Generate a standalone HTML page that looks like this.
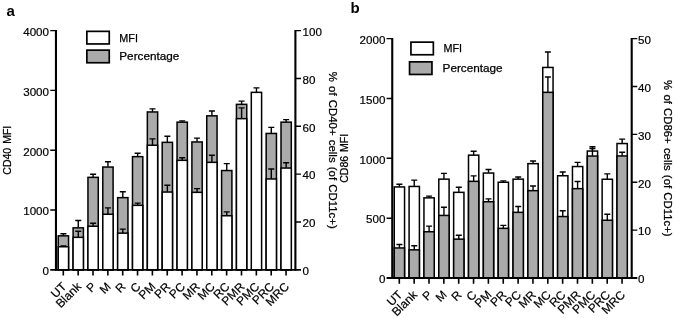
<!DOCTYPE html>
<html><head><meta charset="utf-8"><title>Figure</title>
<style>
html,body{margin:0;padding:0;background:#fff}
svg{display:block;will-change:transform}
.t{font-family:"Liberation Sans",Arial,sans-serif;font-size:11.6px;fill:#000;stroke:#000;stroke-width:.2px}
.x{font-family:"Liberation Sans",Arial,sans-serif;font-size:12px;fill:#000;stroke:#000;stroke-width:.2px}
.a{font-family:"Liberation Sans",Arial,sans-serif;font-size:11.5px;fill:#000;stroke:#000;stroke-width:.25px;word-spacing:1.1px}
.l{font-family:"Liberation Sans",Arial,sans-serif;font-size:11px;fill:#000;stroke:#000;stroke-width:.25px}
.p{font-family:"Liberation Sans",Arial,sans-serif;font-size:15px;font-weight:bold;fill:#000}
</style></head><body>
<svg width="675" height="318" viewBox="0 0 675 318">
<rect width="675" height="318" fill="#fff"/>
<rect x="58.25" y="235.85" width="10.3" height="34" fill="#aaaaaa" stroke="#000" stroke-width="1.5"/>
<path d="M60.4 233.8H66.4M63.4 233.8V235.6" stroke="#000" stroke-width="1.4" fill="none"/>
<rect x="58.25" y="246.75" width="10.3" height="23.1" fill="#fff" stroke="#000" stroke-width="1.5"/>
<path d="M60.4 245.9H66.4M63.4 245.9V246.5" stroke="#000" stroke-width="1.4" fill="none"/>
<rect x="73.1" y="227.85" width="10.3" height="42" fill="#aaaaaa" stroke="#000" stroke-width="1.5"/>
<path d="M75.25 220.5H81.25M78.25 220.5V227.6" stroke="#000" stroke-width="1.4" fill="none"/>
<rect x="73.1" y="237.35" width="10.3" height="32.5" fill="#fff" stroke="#000" stroke-width="1.5"/>
<path d="M75.25 231.2H81.25M78.25 231.2V237.1" stroke="#000" stroke-width="1.4" fill="none"/>
<rect x="87.95" y="177.35" width="10.3" height="92.5" fill="#aaaaaa" stroke="#000" stroke-width="1.5"/>
<path d="M90.1 174.2H96.1M93.1 174.2V177.1" stroke="#000" stroke-width="1.4" fill="none"/>
<rect x="87.95" y="226.25" width="10.3" height="43.6" fill="#fff" stroke="#000" stroke-width="1.5"/>
<path d="M90.1 223.3H96.1M93.1 223.3V226" stroke="#000" stroke-width="1.4" fill="none"/>
<rect x="102.8" y="167.05" width="10.3" height="102.8" fill="#aaaaaa" stroke="#000" stroke-width="1.5"/>
<path d="M104.95 161.8H110.95M107.95 161.8V166.8" stroke="#000" stroke-width="1.4" fill="none"/>
<rect x="102.8" y="214.25" width="10.3" height="55.6" fill="#fff" stroke="#000" stroke-width="1.5"/>
<path d="M104.95 207.9H110.95M107.95 207.9V214" stroke="#000" stroke-width="1.4" fill="none"/>
<rect x="117.65" y="197.65" width="10.3" height="72.2" fill="#aaaaaa" stroke="#000" stroke-width="1.5"/>
<path d="M119.8 191.8H125.8M122.8 191.8V197.4" stroke="#000" stroke-width="1.4" fill="none"/>
<rect x="117.65" y="233.15" width="10.3" height="36.7" fill="#fff" stroke="#000" stroke-width="1.5"/>
<path d="M119.8 229.1H125.8M122.8 229.1V232.9" stroke="#000" stroke-width="1.4" fill="none"/>
<rect x="132.5" y="156.65" width="10.3" height="113.2" fill="#aaaaaa" stroke="#000" stroke-width="1.5"/>
<path d="M134.65 153.3H140.65M137.65 153.3V156.4" stroke="#000" stroke-width="1.4" fill="none"/>
<rect x="132.5" y="205.35" width="10.3" height="64.5" fill="#fff" stroke="#000" stroke-width="1.5"/>
<path d="M134.65 203.1H140.65M137.65 203.1V205.1" stroke="#000" stroke-width="1.4" fill="none"/>
<rect x="147.35" y="111.95" width="10.3" height="157.9" fill="#aaaaaa" stroke="#000" stroke-width="1.5"/>
<path d="M149.5 108.9H155.5M152.5 108.9V111.7" stroke="#000" stroke-width="1.4" fill="none"/>
<rect x="147.35" y="145.25" width="10.3" height="124.6" fill="#fff" stroke="#000" stroke-width="1.5"/>
<path d="M149.5 138.9H155.5M152.5 138.9V145" stroke="#000" stroke-width="1.4" fill="none"/>
<rect x="162.2" y="142.35" width="10.3" height="127.5" fill="#aaaaaa" stroke="#000" stroke-width="1.5"/>
<path d="M164.35 136.3H170.35M167.35 136.3V142.1" stroke="#000" stroke-width="1.4" fill="none"/>
<rect x="162.2" y="192.05" width="10.3" height="77.8" fill="#fff" stroke="#000" stroke-width="1.5"/>
<path d="M164.35 185.2H170.35M167.35 185.2V191.8" stroke="#000" stroke-width="1.4" fill="none"/>
<rect x="177.05" y="122.15" width="10.3" height="147.7" fill="#aaaaaa" stroke="#000" stroke-width="1.5"/>
<path d="M179.2 120.9H185.2M182.2 120.9V121.9" stroke="#000" stroke-width="1.4" fill="none"/>
<rect x="177.05" y="160.35" width="10.3" height="109.5" fill="#fff" stroke="#000" stroke-width="1.5"/>
<path d="M179.2 157.8H185.2M182.2 157.8V160.1" stroke="#000" stroke-width="1.4" fill="none"/>
<rect x="191.9" y="141.95" width="10.3" height="127.9" fill="#aaaaaa" stroke="#000" stroke-width="1.5"/>
<path d="M194.05 138.1H200.05M197.05 138.1V141.7" stroke="#000" stroke-width="1.4" fill="none"/>
<rect x="191.9" y="192.35" width="10.3" height="77.5" fill="#fff" stroke="#000" stroke-width="1.5"/>
<path d="M194.05 188.6H200.05M197.05 188.6V192.1" stroke="#000" stroke-width="1.4" fill="none"/>
<rect x="206.75" y="115.85" width="10.3" height="154" fill="#aaaaaa" stroke="#000" stroke-width="1.5"/>
<path d="M208.9 111H214.9M211.9 111V115.6" stroke="#000" stroke-width="1.4" fill="none"/>
<rect x="206.75" y="162.35" width="10.3" height="107.5" fill="#fff" stroke="#000" stroke-width="1.5"/>
<path d="M208.9 155.3H214.9M211.9 155.3V162.1" stroke="#000" stroke-width="1.4" fill="none"/>
<rect x="221.6" y="170.55" width="10.3" height="99.3" fill="#aaaaaa" stroke="#000" stroke-width="1.5"/>
<path d="M223.75 163.6H229.75M226.75 163.6V170.3" stroke="#000" stroke-width="1.4" fill="none"/>
<rect x="221.6" y="215.75" width="10.3" height="54.1" fill="#fff" stroke="#000" stroke-width="1.5"/>
<path d="M223.75 211.9H229.75M226.75 211.9V215.5" stroke="#000" stroke-width="1.4" fill="none"/>
<rect x="236.45" y="104.35" width="10.3" height="165.5" fill="#aaaaaa" stroke="#000" stroke-width="1.5"/>
<path d="M238.6 101.1H244.6M241.6 101.1V104.1" stroke="#000" stroke-width="1.4" fill="none"/>
<rect x="236.45" y="118.65" width="10.3" height="151.2" fill="#fff" stroke="#000" stroke-width="1.5"/>
<path d="M238.6 107.9H244.6M241.6 107.9V118.4" stroke="#000" stroke-width="1.4" fill="none"/>
<rect x="251.3" y="92.35" width="10.3" height="177.5" fill="#fff" stroke="#000" stroke-width="1.5"/>
<path d="M253.45 87.9H259.45M256.45 87.9V92.1" stroke="#000" stroke-width="1.4" fill="none"/>
<rect x="266.15" y="133.45" width="10.3" height="136.4" fill="#aaaaaa" stroke="#000" stroke-width="1.5"/>
<path d="M268.3 127.4H274.3M271.3 127.4V133.2" stroke="#000" stroke-width="1.4" fill="none"/>
<rect x="266.15" y="178.95" width="10.3" height="90.9" fill="#fff" stroke="#000" stroke-width="1.5"/>
<path d="M268.3 169H274.3M271.3 169V178.7" stroke="#000" stroke-width="1.4" fill="none"/>
<rect x="281" y="122.15" width="10.3" height="147.7" fill="#aaaaaa" stroke="#000" stroke-width="1.5"/>
<path d="M283.15 119.6H289.15M286.15 119.6V121.9" stroke="#000" stroke-width="1.4" fill="none"/>
<rect x="281" y="168.05" width="10.3" height="101.8" fill="#fff" stroke="#000" stroke-width="1.5"/>
<path d="M283.15 162.7H289.15M286.15 162.7V167.8" stroke="#000" stroke-width="1.4" fill="none"/>
<path d="M55.95 29.95V270.8M295.4 29.95V270.8" stroke="#000" stroke-width="2.1" fill="none"/>
<path d="M50.25 269.85H301" stroke="#000" stroke-width="1.9" fill="none"/>
<path d="M63.3 269.85V275.45M78.15 269.85V275.45M93 269.85V275.45M107.85 269.85V275.45M122.7 269.85V275.45M137.55 269.85V275.45M152.4 269.85V275.45M167.25 269.85V275.45M182.1 269.85V275.45M196.95 269.85V275.45M211.8 269.85V275.45M226.65 269.85V275.45M241.5 269.85V275.45M256.35 269.85V275.45M271.2 269.85V275.45M286.05 269.85V275.45" stroke="#000" stroke-width="1.6" fill="none"/>
<text x="49" y="275.15" text-anchor="end" class="t">0</text>
<text x="49" y="215.34" text-anchor="end" class="t">1000</text>
<text x="49" y="155.53" text-anchor="end" class="t">2000</text>
<text x="49" y="95.71" text-anchor="end" class="t">3000</text>
<text x="49" y="35.9" text-anchor="end" class="t">4000</text>
<text x="302.5" y="275.15" class="t">0</text>
<text x="302.5" y="227.3" class="t">20</text>
<text x="302.5" y="179.45" class="t">40</text>
<text x="302.5" y="131.6" class="t">60</text>
<text x="302.5" y="83.75" class="t">80</text>
<text x="302.5" y="35.9" class="t">100</text>
<path d="M50.25 210.04H55.95M50.25 150.23H55.95M50.25 90.41H55.95M50.25 30.6H55.95M295.4 222H301M295.4 174.15H301M295.4 126.3H301M295.4 78.45H301M295.4 30.6H301" stroke="#000" stroke-width="1.4" fill="none"/>
<text transform="translate(67.1 287.35) rotate(-45)" text-anchor="end" class="x">UT</text>
<text transform="translate(81.95 287.35) rotate(-45)" text-anchor="end" class="x">Blank</text>
<text transform="translate(96.8 287.35) rotate(-45)" text-anchor="end" class="x">P</text>
<text transform="translate(111.65 287.35) rotate(-45)" text-anchor="end" class="x">M</text>
<text transform="translate(126.5 287.35) rotate(-45)" text-anchor="end" class="x">R</text>
<text transform="translate(141.35 287.35) rotate(-45)" text-anchor="end" class="x">C</text>
<text transform="translate(156.2 287.35) rotate(-45)" text-anchor="end" class="x">PM</text>
<text transform="translate(171.05 287.35) rotate(-45)" text-anchor="end" class="x">PR</text>
<text transform="translate(185.9 287.35) rotate(-45)" text-anchor="end" class="x">PC</text>
<text transform="translate(200.75 287.35) rotate(-45)" text-anchor="end" class="x">MR</text>
<text transform="translate(215.6 287.35) rotate(-45)" text-anchor="end" class="x">MC</text>
<text transform="translate(230.45 287.35) rotate(-45)" text-anchor="end" class="x">RC</text>
<text transform="translate(245.3 287.35) rotate(-45)" text-anchor="end" class="x">PMR</text>
<text transform="translate(260.15 287.35) rotate(-45)" text-anchor="end" class="x">PMC</text>
<text transform="translate(275 287.35) rotate(-45)" text-anchor="end" class="x">PRC</text>
<text transform="translate(289.85 287.35) rotate(-45)" text-anchor="end" class="x">MRC</text>
<text transform="translate(10.9 150.23) rotate(-90)" text-anchor="middle" class="a" textLength="49" lengthAdjust="spacingAndGlyphs">CD40 MFI</text>
<text transform="translate(329.2 150.23) rotate(90)" text-anchor="middle" class="a" textLength="157" lengthAdjust="spacingAndGlyphs">% of CD40+ cells (of CD11c+)</text>
<rect x="394.25" y="186.95" width="10.3" height="91.1" fill="#fff" stroke="#000" stroke-width="1.5"/>
<path d="M396.4 184.2H402.4M399.4 184.2V186.7" stroke="#000" stroke-width="1.4" fill="none"/>
<rect x="394.25" y="247.95" width="10.3" height="30.1" fill="#aaaaaa" stroke="#000" stroke-width="1.5"/>
<path d="M396.4 244.5H402.4M399.4 244.5V247.7" stroke="#000" stroke-width="1.4" fill="none"/>
<rect x="409.1" y="186.45" width="10.3" height="91.6" fill="#fff" stroke="#000" stroke-width="1.5"/>
<path d="M411.25 180.1H417.25M414.25 180.1V186.2" stroke="#000" stroke-width="1.4" fill="none"/>
<rect x="409.1" y="249.85" width="10.3" height="28.2" fill="#aaaaaa" stroke="#000" stroke-width="1.5"/>
<path d="M411.25 245.8H417.25M414.25 245.8V249.6" stroke="#000" stroke-width="1.4" fill="none"/>
<rect x="423.95" y="197.85" width="10.3" height="80.2" fill="#fff" stroke="#000" stroke-width="1.5"/>
<path d="M426.1 196.1H432.1M429.1 196.1V197.6" stroke="#000" stroke-width="1.4" fill="none"/>
<rect x="423.95" y="231.75" width="10.3" height="46.3" fill="#aaaaaa" stroke="#000" stroke-width="1.5"/>
<path d="M426.1 226.1H432.1M429.1 226.1V231.5" stroke="#000" stroke-width="1.4" fill="none"/>
<rect x="438.8" y="179.15" width="10.3" height="98.9" fill="#fff" stroke="#000" stroke-width="1.5"/>
<path d="M440.95 173.4H446.95M443.95 173.4V178.9" stroke="#000" stroke-width="1.4" fill="none"/>
<rect x="438.8" y="215.45" width="10.3" height="62.6" fill="#aaaaaa" stroke="#000" stroke-width="1.5"/>
<path d="M440.95 207.2H446.95M443.95 207.2V215.2" stroke="#000" stroke-width="1.4" fill="none"/>
<rect x="453.65" y="192.35" width="10.3" height="85.7" fill="#fff" stroke="#000" stroke-width="1.5"/>
<path d="M455.8 187.3H461.8M458.8 187.3V192.1" stroke="#000" stroke-width="1.4" fill="none"/>
<rect x="453.65" y="239.15" width="10.3" height="38.9" fill="#aaaaaa" stroke="#000" stroke-width="1.5"/>
<path d="M455.8 235.3H461.8M458.8 235.3V238.9" stroke="#000" stroke-width="1.4" fill="none"/>
<rect x="468.5" y="155.15" width="10.3" height="122.9" fill="#fff" stroke="#000" stroke-width="1.5"/>
<path d="M470.65 151.3H476.65M473.65 151.3V154.9" stroke="#000" stroke-width="1.4" fill="none"/>
<rect x="468.5" y="181.35" width="10.3" height="96.7" fill="#aaaaaa" stroke="#000" stroke-width="1.5"/>
<path d="M470.65 175.9H476.65M473.65 175.9V181.1" stroke="#000" stroke-width="1.4" fill="none"/>
<rect x="483.35" y="173.05" width="10.3" height="105" fill="#fff" stroke="#000" stroke-width="1.5"/>
<path d="M485.5 169.5H491.5M488.5 169.5V172.8" stroke="#000" stroke-width="1.4" fill="none"/>
<rect x="483.35" y="201.75" width="10.3" height="76.3" fill="#aaaaaa" stroke="#000" stroke-width="1.5"/>
<path d="M485.5 198.9H491.5M488.5 198.9V201.5" stroke="#000" stroke-width="1.4" fill="none"/>
<rect x="498.2" y="182.25" width="10.3" height="95.8" fill="#fff" stroke="#000" stroke-width="1.5"/>
<path d="M500.35 180.9H506.35M503.35 180.9V182" stroke="#000" stroke-width="1.4" fill="none"/>
<rect x="498.2" y="228.35" width="10.3" height="49.7" fill="#aaaaaa" stroke="#000" stroke-width="1.5"/>
<path d="M500.35 225.4H506.35M503.35 225.4V228.1" stroke="#000" stroke-width="1.4" fill="none"/>
<rect x="513.05" y="179.15" width="10.3" height="98.9" fill="#fff" stroke="#000" stroke-width="1.5"/>
<path d="M515.2 177H521.2M518.2 177V178.9" stroke="#000" stroke-width="1.4" fill="none"/>
<rect x="513.05" y="212.35" width="10.3" height="65.7" fill="#aaaaaa" stroke="#000" stroke-width="1.5"/>
<path d="M515.2 206.5H521.2M518.2 206.5V212.1" stroke="#000" stroke-width="1.4" fill="none"/>
<rect x="527.9" y="163.65" width="10.3" height="114.4" fill="#fff" stroke="#000" stroke-width="1.5"/>
<path d="M530.05 161H536.05M533.05 161V163.4" stroke="#000" stroke-width="1.4" fill="none"/>
<rect x="527.9" y="190.65" width="10.3" height="87.4" fill="#aaaaaa" stroke="#000" stroke-width="1.5"/>
<path d="M530.05 186H536.05M533.05 186V190.4" stroke="#000" stroke-width="1.4" fill="none"/>
<rect x="542.75" y="67.45" width="10.3" height="210.6" fill="#fff" stroke="#000" stroke-width="1.5"/>
<path d="M544.9 52H550.9M547.9 52V67.2" stroke="#000" stroke-width="1.4" fill="none"/>
<rect x="542.75" y="92.35" width="10.3" height="185.7" fill="#aaaaaa" stroke="#000" stroke-width="1.5"/>
<path d="M544.9 77H550.9M547.9 77V92.1" stroke="#000" stroke-width="1.4" fill="none"/>
<rect x="557.6" y="175.75" width="10.3" height="102.3" fill="#fff" stroke="#000" stroke-width="1.5"/>
<path d="M559.75 172H565.75M562.75 172V175.5" stroke="#000" stroke-width="1.4" fill="none"/>
<rect x="557.6" y="216.55" width="10.3" height="61.5" fill="#aaaaaa" stroke="#000" stroke-width="1.5"/>
<path d="M559.75 210.8H565.75M562.75 210.8V216.3" stroke="#000" stroke-width="1.4" fill="none"/>
<rect x="572.45" y="166.55" width="10.3" height="111.5" fill="#fff" stroke="#000" stroke-width="1.5"/>
<path d="M574.6 162.4H580.6M577.6 162.4V166.3" stroke="#000" stroke-width="1.4" fill="none"/>
<rect x="572.45" y="188.65" width="10.3" height="89.4" fill="#aaaaaa" stroke="#000" stroke-width="1.5"/>
<path d="M574.6 181.5H580.6M577.6 181.5V188.4" stroke="#000" stroke-width="1.4" fill="none"/>
<rect x="587.3" y="151.05" width="10.3" height="127" fill="#fff" stroke="#000" stroke-width="1.5"/>
<path d="M589.45 146.8H595.45M592.45 146.8V150.8" stroke="#000" stroke-width="1.4" fill="none"/>
<rect x="587.3" y="156.05" width="10.3" height="122" fill="#aaaaaa" stroke="#000" stroke-width="1.5"/>
<path d="M589.45 148.5H595.45M592.45 148.5V155.8" stroke="#000" stroke-width="1.4" fill="none"/>
<rect x="602.15" y="179.25" width="10.3" height="98.8" fill="#fff" stroke="#000" stroke-width="1.5"/>
<path d="M604.3 173.9H610.3M607.3 173.9V179" stroke="#000" stroke-width="1.4" fill="none"/>
<rect x="602.15" y="220.25" width="10.3" height="57.8" fill="#aaaaaa" stroke="#000" stroke-width="1.5"/>
<path d="M604.3 214.2H610.3M607.3 214.2V220" stroke="#000" stroke-width="1.4" fill="none"/>
<rect x="617" y="143.55" width="10.3" height="134.5" fill="#fff" stroke="#000" stroke-width="1.5"/>
<path d="M619.15 139.1H625.15M622.15 139.1V143.3" stroke="#000" stroke-width="1.4" fill="none"/>
<rect x="617" y="155.95" width="10.3" height="122.1" fill="#aaaaaa" stroke="#000" stroke-width="1.5"/>
<path d="M619.15 152.3H625.15M622.15 152.3V155.7" stroke="#000" stroke-width="1.4" fill="none"/>
<path d="M392.25 37.95V279M631.7 37.95V279" stroke="#000" stroke-width="2.1" fill="none"/>
<path d="M386.55 278.05H637.3" stroke="#000" stroke-width="1.9" fill="none"/>
<path d="M399.3 278.05V283.65M414.15 278.05V283.65M429 278.05V283.65M443.85 278.05V283.65M458.7 278.05V283.65M473.55 278.05V283.65M488.4 278.05V283.65M503.25 278.05V283.65M518.1 278.05V283.65M532.95 278.05V283.65M547.8 278.05V283.65M562.65 278.05V283.65M577.5 278.05V283.65M592.35 278.05V283.65M607.2 278.05V283.65M622.05 278.05V283.65" stroke="#000" stroke-width="1.6" fill="none"/>
<text x="385.4" y="283.35" text-anchor="end" class="t">0</text>
<text x="385.4" y="223.49" text-anchor="end" class="t">500</text>
<text x="385.4" y="163.62" text-anchor="end" class="t">1000</text>
<text x="385.4" y="103.76" text-anchor="end" class="t">1500</text>
<text x="385.4" y="43.9" text-anchor="end" class="t">2000</text>
<text x="638.1" y="283.35" class="t">0</text>
<text x="638.1" y="235.46" class="t">10</text>
<text x="638.1" y="187.57" class="t">20</text>
<text x="638.1" y="139.68" class="t">30</text>
<text x="638.1" y="91.79" class="t">40</text>
<text x="638.1" y="43.9" class="t">50</text>
<path d="M386.55 218.19H392.25M386.55 158.32H392.25M386.55 98.46H392.25M386.55 38.6H392.25M631.7 230.16H637.3M631.7 182.27H637.3M631.7 134.38H637.3M631.7 86.49H637.3M631.7 38.6H637.3" stroke="#000" stroke-width="1.4" fill="none"/>
<text transform="translate(403.1 295.55) rotate(-45)" text-anchor="end" class="x">UT</text>
<text transform="translate(417.95 295.55) rotate(-45)" text-anchor="end" class="x">Blank</text>
<text transform="translate(432.8 295.55) rotate(-45)" text-anchor="end" class="x">P</text>
<text transform="translate(447.65 295.55) rotate(-45)" text-anchor="end" class="x">M</text>
<text transform="translate(462.5 295.55) rotate(-45)" text-anchor="end" class="x">R</text>
<text transform="translate(477.35 295.55) rotate(-45)" text-anchor="end" class="x">C</text>
<text transform="translate(492.2 295.55) rotate(-45)" text-anchor="end" class="x">PM</text>
<text transform="translate(507.05 295.55) rotate(-45)" text-anchor="end" class="x">PR</text>
<text transform="translate(521.9 295.55) rotate(-45)" text-anchor="end" class="x">PC</text>
<text transform="translate(536.75 295.55) rotate(-45)" text-anchor="end" class="x">MR</text>
<text transform="translate(551.6 295.55) rotate(-45)" text-anchor="end" class="x">MC</text>
<text transform="translate(566.45 295.55) rotate(-45)" text-anchor="end" class="x">RC</text>
<text transform="translate(581.3 295.55) rotate(-45)" text-anchor="end" class="x">PMR</text>
<text transform="translate(596.15 295.55) rotate(-45)" text-anchor="end" class="x">PMC</text>
<text transform="translate(611 295.55) rotate(-45)" text-anchor="end" class="x">PRC</text>
<text transform="translate(625.85 295.55) rotate(-45)" text-anchor="end" class="x">MRC</text>
<text transform="translate(348.2 158.33) rotate(-90)" text-anchor="middle" class="a" textLength="49" lengthAdjust="spacingAndGlyphs">CD86 MFI</text>
<text transform="translate(664.2 158.33) rotate(90)" text-anchor="middle" class="a" textLength="156.5" lengthAdjust="spacingAndGlyphs">% of CD86+ cells (of CD11c+)</text>
<rect x="86.85" y="31.35" width="22.4" height="12.6" fill="#fff" stroke="#000" stroke-width="1.7"/>
<rect x="86.85" y="50.15" width="22.4" height="12.6" fill="#aaaaaa" stroke="#000" stroke-width="1.7"/>
<text x="119.3" y="41.8" class="l" textLength="18.6" lengthAdjust="spacingAndGlyphs">MFI</text>
<text x="119.3" y="60.4" class="l" textLength="60" lengthAdjust="spacingAndGlyphs">Percentage</text>
<rect x="410.95" y="42.15" width="22.4" height="12.6" fill="#fff" stroke="#000" stroke-width="1.7"/>
<rect x="409.55" y="61.85" width="22.4" height="12.6" fill="#aaaaaa" stroke="#000" stroke-width="1.7"/>
<text x="443.4" y="52.3" class="l" textLength="18.6" lengthAdjust="spacingAndGlyphs">MFI</text>
<text x="442.6" y="72" class="l" textLength="60" lengthAdjust="spacingAndGlyphs">Percentage</text>
<text x="6.6" y="16.2" class="p">a</text>
<text x="350.4" y="12.5" class="p">b</text>
</svg>
</body></html>
